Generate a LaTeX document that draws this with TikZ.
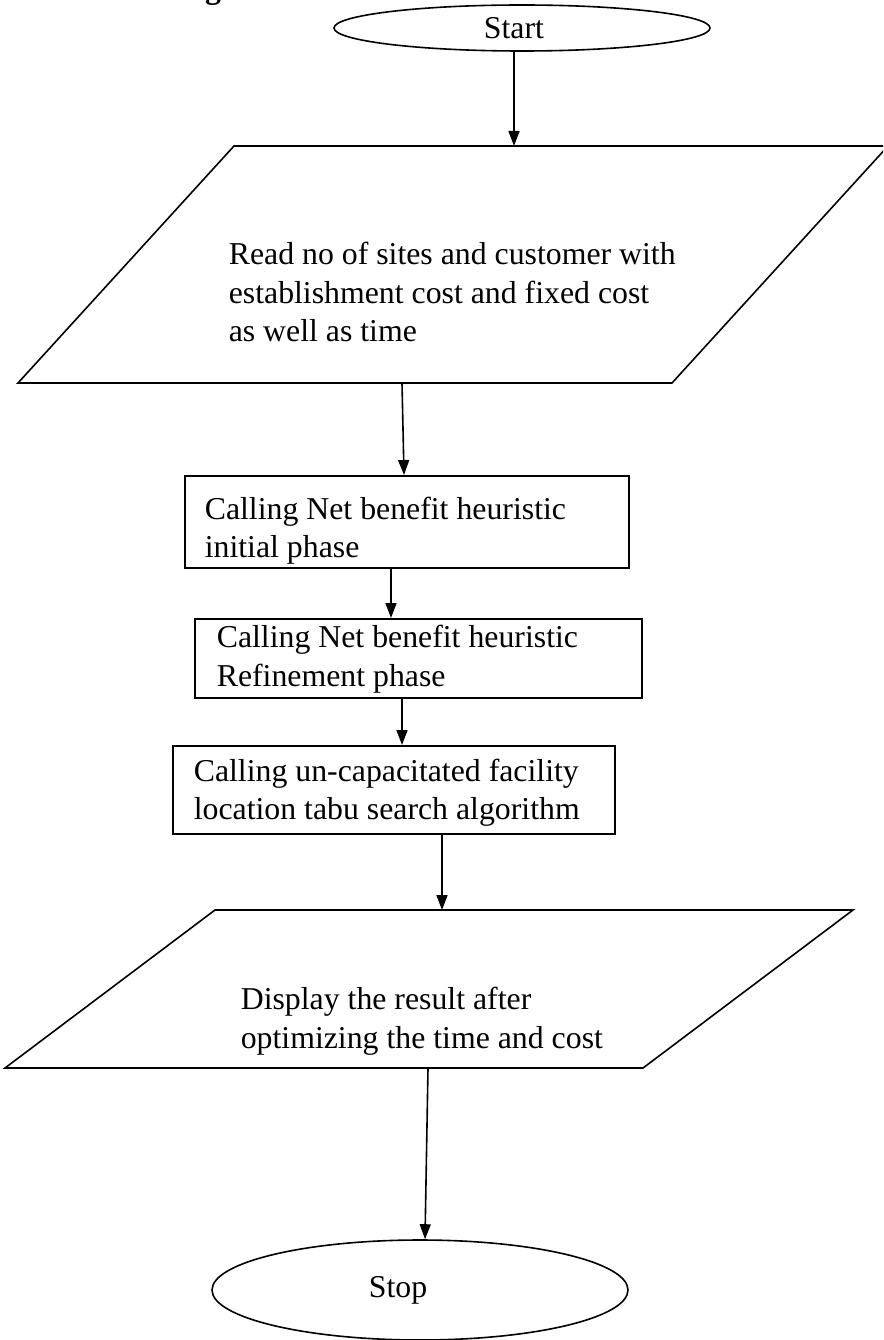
\documentclass[tikz,border=0pt]{standalone}
\usepackage{fontspec}
\setmainfont{Liberation Serif}
\usetikzlibrary{shapes.geometric,arrows.meta,calc}
\begin{document}
\begin{tikzpicture}[x=1pt,y=-1pt,
  line width=1.6pt,
  txt/.style={font=\fontsize{31.8}{38.5}\selectfont},
  arr/.style={-{Triangle[length=15pt,width=11pt]}, line width=1.6pt},
  term/.style={draw, ellipse, inner sep=0pt, txt},
  proc/.style={draw, rectangle, anchor=north west, inner sep=0pt},
  iobox/.style={draw, line join=miter},
  btext/.style={anchor=west, align=left, inner sep=0pt, txt}
]
\useasboundingbox (0,0) rectangle (883,1340);
\clip (0,0) rectangle (883,1340);

% fragment of a heading above the picture
\node[anchor=base, inner sep=0pt, font=\bfseries\fontsize{31.8}{38.5}\selectfont] (headfrag) at (213,-1) {g};

% terminals
\node[term, minimum width=376pt, minimum height=46pt] (start) at (522,28) {Start\kern16pt};
\node[term, minimum width=416pt, minimum height=100pt] (stop) at (420,1290) {Stop\kern44pt};

% input parallelogram 1
\coordinate (p1tl) at (234,146);
\coordinate (p1tr) at (888,146);
\coordinate (p1br) at (672,383);
\coordinate (p1bl) at (18,383);
\draw[iobox] (p1tl) -- (p1tr) -- (p1br) -- (p1bl) -- cycle;
\node[btext] (p1) at (228,292) {Read no of sites and customer with\\establishment cost and fixed cost\\as well as time};

% process boxes
\node[proc, minimum width=444pt, minimum height=92pt] (b1) at (184,475) {};
\node[btext] (b1t) at ($(b1.west)+(20,9)$) {Calling Net benefit heuristic\\initial phase};
\node[proc, minimum width=447pt, minimum height=79pt] (b2) at (194,618) {};
\node[btext] (b2t) at ($(b2.west)+(22,1)$) {Calling Net benefit heuristic\\Refinement phase};
\node[proc, minimum width=442pt, minimum height=88pt] (b3) at (172,745) {};
\node[btext] (b3t) at ($(b3.west)+(21,3)$) {Calling un-capacitated facility\\location tabu search algorithm};

% output parallelogram 2
\coordinate (p2tl) at (215,910);
\coordinate (p2tr) at (853,910);
\coordinate (p2br) at (643,1068);
\coordinate (p2bl) at (5,1068);
\draw[iobox] (p2tl) -- (p2tr) -- (p2br) -- (p2bl) -- cycle;
\node[btext] (p2) at (240,1021) {Display the result after\\optimizing the time and cost};

% connectors
\draw[arr] ($(start.south)+(-8,0)$) -- ($(p1tl)+(280,0)$);
\draw[arr] ($(p1bl)+(384,0)$) -- ($(b1.north west)+(220,0)$);
\draw[arr] ($(b1.south west)+(207,0)$) -- ($(b2.north west)+(197,0)$);
\draw[arr] ($(b2.south west)+(208,0)$) -- ($(b3.north west)+(230,0)$);
\draw[arr] ($(b3.south west)+(270,0)$) -- ($(p2tl)+(227,0)$);
\draw[arr] ($(p2bl)+(423,0)$) -- ($(stop.north)+(5,0)$);
\end{tikzpicture}
\end{document}
